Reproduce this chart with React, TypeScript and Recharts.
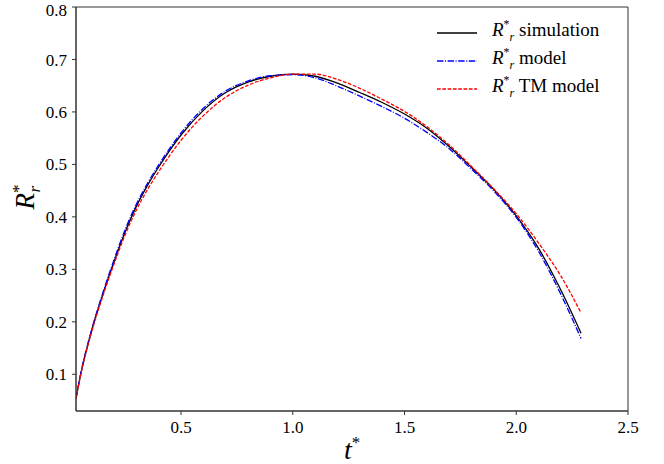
import React from "react";
import { LineChart, Line, XAxis, YAxis, Label, ReferenceArea } from "recharts";

const tValues = [0.03, 0.05, 0.1, 0.15, 0.2, 0.25, 0.3, 0.35, 0.4, 0.5, 0.6, 0.7, 0.8, 0.9, 1.0, 1.1, 1.2, 1.3, 1.4, 1.5, 1.6, 1.7, 1.8, 1.9, 2.0, 2.1, 2.2, 2.29];
const simulation = [0.054, 0.098, 0.183, 0.252, 0.314, 0.371, 0.42, 0.46, 0.495, 0.556, 0.603, 0.637, 0.657, 0.668, 0.672, 0.668, 0.655, 0.637, 0.618, 0.596, 0.569, 0.534, 0.494, 0.452, 0.402, 0.34, 0.26, 0.178];
const model = [0.054, 0.099, 0.185, 0.255, 0.318, 0.376, 0.424, 0.464, 0.499, 0.56, 0.607, 0.64, 0.659, 0.669, 0.671, 0.665, 0.649, 0.63, 0.61, 0.588, 0.561, 0.53, 0.491, 0.449, 0.399, 0.334, 0.252, 0.168];
const tmModel = [0.054, 0.097, 0.181, 0.249, 0.31, 0.366, 0.413, 0.452, 0.486, 0.546, 0.593, 0.628, 0.651, 0.665, 0.672, 0.672, 0.662, 0.645, 0.624, 0.601, 0.572, 0.537, 0.496, 0.453, 0.406, 0.35, 0.287, 0.217];
const xTicks = [0.5, 1.0, 1.5, 2.0, 2.5];
const yTicks = [0.1, 0.2, 0.3, 0.4, 0.5, 0.6, 0.7, 0.8];
const seriesNames = ["simulation", "model", "TM model"];

const data = tValues.map((t, i) => ({ t, sim: simulation[i], model: model[i], tm: tmModel[i] }));

const FONT = "'Liberation Serif', 'DejaVu Serif', serif";
const X_DOMAIN: [number, number] = [0.03, 2.5];
const Y_DOMAIN: [number, number] = [0.03, 0.8];

const legendItems = [
  { name: seriesNames[0], color: "#000000", dash: undefined as string | undefined },
  { name: seriesNames[1], color: "#0000ff", dash: "6.4 1.6 1 1.6" },
  { name: seriesNames[2], color: "#ff0000", dash: "3.7 1.6" },
];

const LegendOverlay = () => (
  <svg width={664} height={464} style={{ position: "absolute", left: 0, top: 0, pointerEvents: "none" }}>
    {legendItems.map((it, i) => {
      const y = 33 + i * 28;
      return (
        <g key={it.name}>
          <line x1={437} x2={477} y1={y} y2={y} stroke={it.color} strokeWidth={1.3} strokeDasharray={it.dash} />
          <text x={492} y={y + 3} fontFamily={FONT} fontSize={19} fill="#000">
            <tspan fontStyle="italic">R</tspan>
            <tspan fontSize={12} dy={-8}>*</tspan>
            <tspan fontSize={12} fontStyle="italic" dx={0} dy={13}>r</tspan>
            <tspan dy={-5}>{" " + it.name}</tspan>
          </text>
        </g>
      );
    })}
  </svg>
);

export default function App() {
  return (
    <div style={{ position: "absolute", left: 0, top: 0, width: 664, height: 464, background: "#fff" }}>
      <LineChart width={664} height={464} data={data} margin={{ top: 7, right: 36, bottom: 0, left: 0 }}>
        <XAxis
          dataKey="t"
          type="number"
          domain={X_DOMAIN}
          ticks={xTicks}
          allowDataOverflow
          height={53}
          stroke="#333"
          tickSize={4}
          tickMargin={6}
          tick={{ fill: "#000", fontFamily: FONT, fontSize: 17 }}
          tickFormatter={(v: number) => v.toFixed(1)}
        >
          <Label
            content={({ viewBox }: any) => {
              const cx = viewBox.x + viewBox.width / 2;
              return (
                <text x={cx - 8} y={459} fontFamily={FONT} fontSize={28} fill="#000">
                  <tspan fontStyle="italic">t</tspan>
                  <tspan fontSize={17} dy={-11}>*</tspan>
                </text>
              );
            }}
          />
        </XAxis>
        <YAxis
          type="number"
          domain={Y_DOMAIN}
          ticks={yTicks}
          allowDataOverflow
          width={76}
          stroke="#333"
          tickSize={4}
          tickMargin={5}
          tick={{ fill: "#000", fontFamily: FONT, fontSize: 17 }}
          tickFormatter={(v: number) => v.toFixed(1)}
        >
          <Label
            content={({ viewBox }: any) => {
              const cy = viewBox.y + viewBox.height / 2;
              return (
                <text transform={`translate(34, ${cy - 12}) rotate(-90)`} fontFamily={FONT} fontSize={27} fill="#000" textAnchor="middle">
                  <tspan fontStyle="italic">R</tspan>
                  <tspan fontSize={17} dy={-10}>*</tspan>
                  <tspan fontSize={17} fontStyle="italic" dx={-8} dy={16}>r</tspan>
                </text>
              );
            }}
          />
        </YAxis>
        <ReferenceArea x1={X_DOMAIN[0]} x2={X_DOMAIN[1]} y1={Y_DOMAIN[0]} y2={Y_DOMAIN[1]} fill="none" fillOpacity={0} stroke="#333" strokeWidth={1} ifOverflow="visible" />
        <Line type="monotone" dataKey="sim" name="simulation" stroke="#000000" strokeWidth={1.3} dot={false} isAnimationActive={false} />
        <Line type="monotone" dataKey="model" name="model" stroke="#0000ff" strokeWidth={1.3} strokeDasharray="6.4 1.6 1 1.6" dot={false} isAnimationActive={false} />
        <Line type="monotone" dataKey="tm" name="TM model" stroke="#ff0000" strokeWidth={1.3} strokeDasharray="3.7 1.6" dot={false} isAnimationActive={false} />
      </LineChart>
      <LegendOverlay />
    </div>
  );
}
